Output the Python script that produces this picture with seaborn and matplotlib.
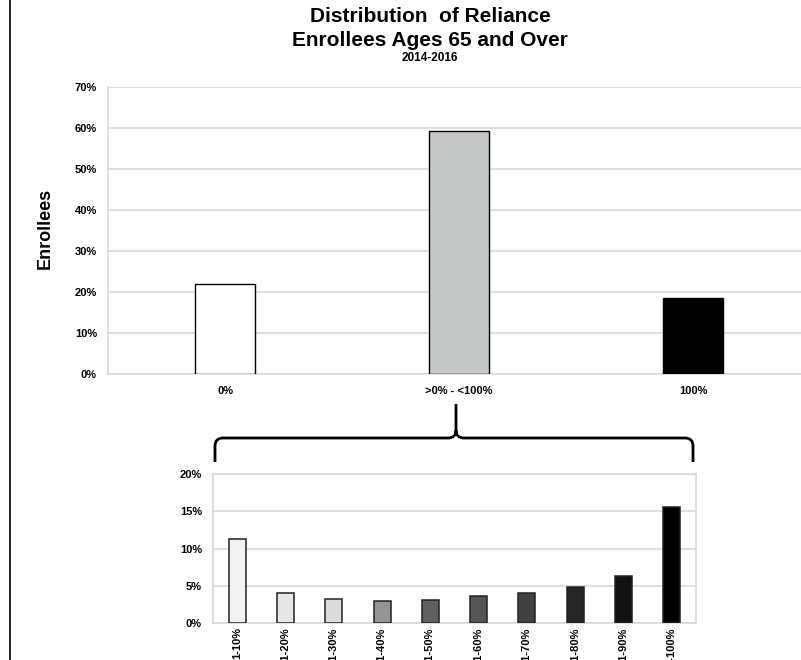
import matplotlib
matplotlib.use("Agg")
import matplotlib.pyplot as plt
import seaborn as sns
import pandas as pd
from matplotlib.path import Path
from matplotlib.patches import PathPatch
from matplotlib.lines import Line2D
from matplotlib.ticker import PercentFormatter, MultipleLocator

# Share of enrollees by reliance level (percent)
reliance_groups = ["0%", ">0% - <100%", "100%"]
reliance_share = [21.9, 59.3, 18.5]
reliance_colors = ["#ffffff", "#c5c8c9", "#000000"]

# Breakdown of the partial-reliance group (percent)
partial_groups = ["1-10%", "11-20%", "21-30%", "31-40%", "41-50%",
                  "51-60%", "61-70%", "71-80%", "81-90%", "91-100%"]
partial_share = [11.3, 4.1, 3.3, 3.0, 3.1, 3.6, 4.1, 4.9, 6.3, 15.6]
partial_colors = ["#f2f2f2", "#e6e6e6", "#dcdcdc", "#939598", "#5d6163",
                  "#555555", "#414141", "#262626", "#111111", "#000000"]

sns.set_style("white")
plt.rcParams["font.family"] = ["Liberation Sans", "DejaVu Sans"]
plt.rcParams["font.weight"] = "bold"
plt.rcParams["text.color"] = "black"
plt.rcParams["axes.labelcolor"] = "black"
plt.rcParams["xtick.color"] = "black"
plt.rcParams["ytick.color"] = "black"

W, H = 801, 660
fig = plt.figure(figsize=(W / 100, H / 100), dpi=100)


def fx(x):
    return x / W


def fy(y):
    return 1 - y / H


grid_col = "#d9d9d9"

# ---- main chart ----
ax = fig.add_axes([fx(108), fy(374), (810 - 108) / W, (374 - 87.3) / H])
top_df = pd.DataFrame({"group": reliance_groups, "share": reliance_share})
sns.barplot(data=top_df, x="group", y="share", hue="group",
            palette=dict(zip(reliance_groups, reliance_colors)),
            legend=False, ax=ax, width=0.254, saturation=1,
            edgecolor="black", linewidth=1, zorder=3)
ax.set_ylim(0, 70)
ax.yaxis.set_major_locator(MultipleLocator(10))
ax.yaxis.set_major_formatter(PercentFormatter(decimals=0))
ax.grid(axis="y", color=grid_col, linewidth=1.2, zorder=0)
ax.set_axisbelow(True)
for side in ["top", "right"]:
    ax.spines[side].set_visible(False)
for side in ["left", "bottom"]:
    ax.spines[side].set_color(grid_col)
    ax.spines[side].set_linewidth(1.2)
ax.tick_params(axis="both", length=0, labelsize=8, labelcolor="black")
ax.tick_params(axis="y", pad=8)
ax.tick_params(axis="x", pad=9)
ax.set_xlabel("")
ax.set_ylabel("")
for lab in ax.get_xticklabels() + ax.get_yticklabels():
    lab.set_fontweight("bold")

# ---- breakdown chart ----
ax2 = fig.add_axes([fx(213), fy(623.3), (696 - 213) / W, (623.3 - 474) / H])
bot_df = pd.DataFrame({"group": partial_groups, "share": partial_share})
sns.barplot(data=bot_df, x="group", y="share", hue="group",
            palette=dict(zip(partial_groups, partial_colors)),
            legend=False, ax=ax2, width=0.35, saturation=1,
            edgecolor="#222222", linewidth=1.1, zorder=3)
ax2.set_ylim(0, 20)
ax2.yaxis.set_major_locator(MultipleLocator(5))
ax2.yaxis.set_major_formatter(PercentFormatter(decimals=0))
ax2.grid(axis="y", color=grid_col, linewidth=1.2, zorder=0)
ax2.set_axisbelow(True)
for side in ["top", "right", "left", "bottom"]:
    ax2.spines[side].set_color(grid_col)
    ax2.spines[side].set_linewidth(1.2)
ax2.tick_params(axis="both", length=0, labelsize=8, labelcolor="black")
ax2.tick_params(axis="y", pad=8)
ax2.tick_params(axis="x", pad=3, labelrotation=90)
ax2.set_xlabel("")
ax2.set_ylabel("")
for lab in ax2.get_xticklabels() + ax2.get_yticklabels():
    lab.set_fontweight("bold")

# ---- titles ----
cx = fx(430)
fig.text(cx, fy(17), "Distribution  of Reliance", ha="center",
         va="center", fontsize=15, fontweight="bold", color="black")
fig.text(cx, fy(40), "Enrollees Ages 65 and Over", ha="center",
         va="center", fontsize=15, fontweight="bold", color="black")
fig.text(cx, fy(58), "2014-2016", ha="center", va="center",
         fontsize=8.5, fontweight="bold", color="black")
fig.text(fx(45), fy(228), "Enrollees", rotation=90, ha="center",
         va="center", fontsize=13, fontweight="bold", color="black")

# ---- brace linking the middle bar to the breakdown ----
pts = [
    (215, 462), (215, 446), (215, 438), (223, 438),
    (448, 438), (456, 438), (456, 430), (456, 404),
    (456, 430), (456, 438), (464, 438),
    (685, 438), (693, 438), (693, 446), (693, 462),
]
codes = [
    Path.MOVETO, Path.LINETO, Path.CURVE3, Path.CURVE3,
    Path.LINETO, Path.CURVE3, Path.CURVE3, Path.LINETO,
    Path.MOVETO, Path.CURVE3, Path.CURVE3,
    Path.LINETO, Path.CURVE3, Path.CURVE3, Path.LINETO,
]
brace = Path([(fx(x), fy(y)) for x, y in pts], codes)
fig.patches.append(PathPatch(brace, transform=fig.transFigure,
                             facecolor="none", edgecolor="black",
                             linewidth=2, capstyle="butt"))

# left border rule
fig.lines.append(Line2D([fx(9.5), fx(9.5)], [0, 1], transform=fig.transFigure,
                        color="black", linewidth=1.2))

fig.savefig("out.png", dpi=100)
